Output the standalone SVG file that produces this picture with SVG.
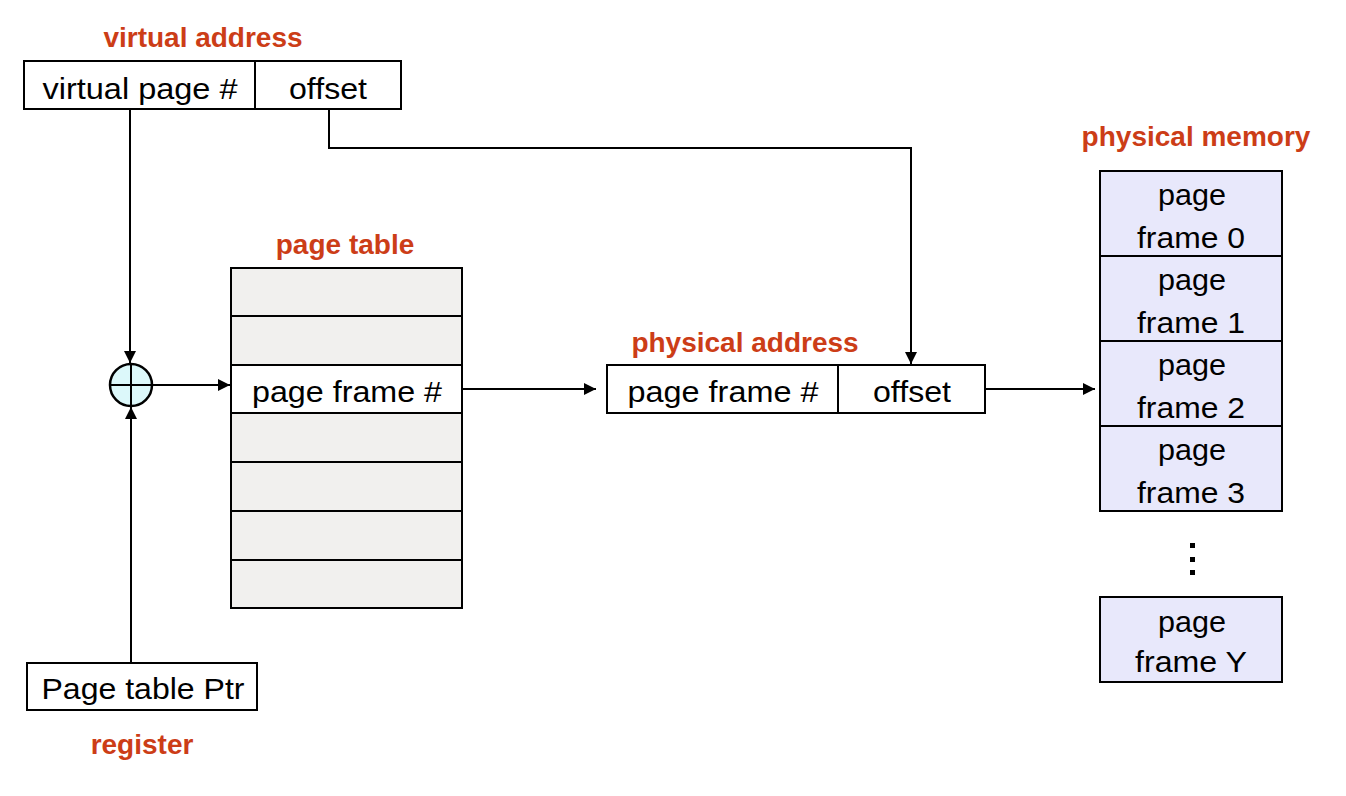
<svg xmlns="http://www.w3.org/2000/svg" width="1346" height="796" viewBox="0 0 1346 796">
<defs>
<style>
.lbl{font-family:"Liberation Sans",Arial,sans-serif;font-weight:bold;font-size:28px;fill:#cc3d17;text-anchor:middle}
.t{font-family:"Liberation Sans",Arial,sans-serif;font-size:29px;fill:#000;text-anchor:middle}
.box{fill:#fff;stroke:#000;stroke-width:2}
.pt{fill:#f1f0ee;stroke:#000;stroke-width:2}
.mem{fill:#e8e8fb;stroke:#000;stroke-width:2}
.ln{fill:none;stroke:#000;stroke-width:2}
</style>
<marker id="ah" viewBox="0 0 10 10" refX="10" refY="5" markerWidth="6" markerHeight="6" orient="auto" markerUnits="strokeWidth">
<path d="M0,0 L10,5 L0,10 z" fill="#000"/>
</marker>
</defs>
<rect width="1346" height="796" fill="#fff"/>

<g id="virtual-address">
<text class="lbl" x="203" y="47">virtual address</text>
<rect class="box" x="24" y="61" width="377" height="48"/>
<line class="ln" x1="255" y1="61" x2="255" y2="109"/>
<text class="t" x="140" y="99" textLength="195" lengthAdjust="spacingAndGlyphs">virtual page #</text>
<text class="t" x="328" y="99" textLength="78" lengthAdjust="spacingAndGlyphs">offset</text>
</g>

<g id="adder">
<circle cx="131" cy="385" r="21" fill="#dcf8fa" stroke="#000" stroke-width="2.5"/>
<line class="ln" x1="110" y1="385" x2="152" y2="385"/>
<line class="ln" x1="131" y1="364" x2="131" y2="406"/>
</g>

<g id="page-table">
<text class="lbl" x="345" y="254">page table</text>
<rect class="pt" x="231" y="268" width="231" height="340"/>
<rect class="box" x="231" y="365" width="231" height="48"/>
<line class="ln" x1="231" y1="316" x2="462" y2="316"/>
<line class="ln" x1="231" y1="462" x2="462" y2="462"/>
<line class="ln" x1="231" y1="511" x2="462" y2="511"/>
<line class="ln" x1="231" y1="560" x2="462" y2="560"/>
<text class="t" x="347" y="402" textLength="190" lengthAdjust="spacingAndGlyphs">page frame #</text>
</g>

<g id="physical-address">
<text class="lbl" x="745" y="352">physical address</text>
<rect class="box" x="607" y="365" width="378" height="48"/>
<line class="ln" x1="838" y1="365" x2="838" y2="413"/>
<text class="t" x="723" y="402" textLength="191" lengthAdjust="spacingAndGlyphs">page frame #</text>
<text class="t" x="912" y="402" textLength="78" lengthAdjust="spacingAndGlyphs">offset</text>
</g>

<g id="physical-memory">
<text class="lbl" x="1196" y="146">physical memory</text>
<rect class="mem" x="1100" y="171" width="182" height="85"/>
<rect class="mem" x="1100" y="256" width="182" height="85"/>
<rect class="mem" x="1100" y="341" width="182" height="85"/>
<rect class="mem" x="1100" y="426" width="182" height="85"/>
<text class="t" x="1192" y="205" textLength="68" lengthAdjust="spacingAndGlyphs">page</text>
<text class="t" x="1191" y="248" textLength="108" lengthAdjust="spacingAndGlyphs">frame 0</text>
<text class="t" x="1192" y="290" textLength="68" lengthAdjust="spacingAndGlyphs">page</text>
<text class="t" x="1191" y="333" textLength="108" lengthAdjust="spacingAndGlyphs">frame 1</text>
<text class="t" x="1192" y="375" textLength="68" lengthAdjust="spacingAndGlyphs">page</text>
<text class="t" x="1191" y="418" textLength="108" lengthAdjust="spacingAndGlyphs">frame 2</text>
<text class="t" x="1192" y="460" textLength="68" lengthAdjust="spacingAndGlyphs">page</text>
<text class="t" x="1191" y="503" textLength="108" lengthAdjust="spacingAndGlyphs">frame 3</text>
<rect x="1190" y="543" width="5" height="5" fill="#000"/>
<rect x="1190" y="557" width="5" height="5" fill="#000"/>
<rect x="1190" y="570" width="5" height="5" fill="#000"/>
<rect class="mem" x="1100" y="597" width="182" height="85"/>
<text class="t" x="1192" y="632" textLength="68" lengthAdjust="spacingAndGlyphs">page</text>
<text class="t" x="1191" y="672" textLength="112" lengthAdjust="spacingAndGlyphs">frame Y</text>
</g>

<g id="register">
<rect class="box" x="27" y="663" width="230" height="47"/>
<text class="t" x="143" y="699" textLength="203" lengthAdjust="spacingAndGlyphs">Page table Ptr</text>
<text class="lbl" x="142" y="754">register</text>
</g>

<g id="connectors">
<line class="ln" x1="130" y1="109" x2="130" y2="363" marker-end="url(#ah)"/>
<polyline class="ln" points="329,109 329,148 911,148 911,364" marker-end="url(#ah)"/>
<line class="ln" x1="152" y1="385" x2="230" y2="385" marker-end="url(#ah)"/>
<line class="ln" x1="131" y1="663" x2="131" y2="407" marker-end="url(#ah)"/>
<line class="ln" x1="462" y1="389" x2="596" y2="389" marker-end="url(#ah)"/>
<line class="ln" x1="985" y1="389" x2="1095" y2="389" marker-end="url(#ah)"/>
</g>
</svg>
